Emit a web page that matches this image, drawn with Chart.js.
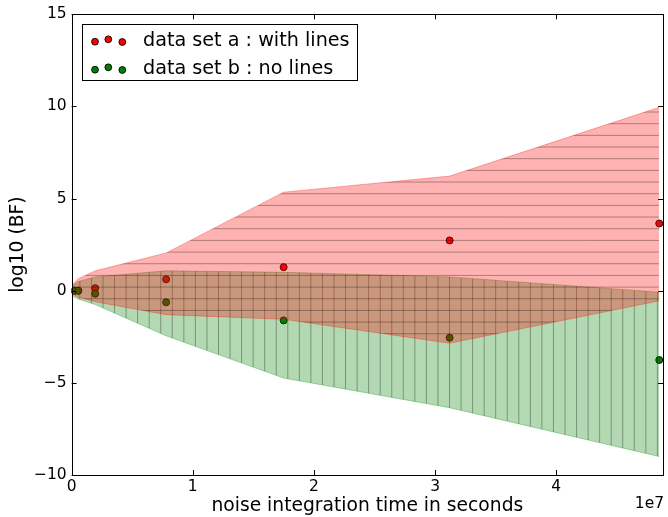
<!DOCTYPE html>
<html>
<head>
<meta charset="utf-8">
<script src="https://cdn.jsdelivr.net/npm/chart.js@4.4.1/dist/chart.umd.min.js"></script>
<style>
  html, body { margin: 0; padding: 0; background: #ffffff; }
  #wrap { width: 668px; height: 517px; position: relative; }
</style>
</head>
<body>
<div id="wrap"><canvas id="c" width="668" height="517"></canvas></div>
<script>
// ---- data ----
const pointTimes = [0.025e7, 0.055e7, 0.195e7, 0.78e7, 1.75e7, 3.12e7, 4.85e7];
const logBFa     = [0.0, 0.0, 0.14, 0.62, 1.28, 2.73, 3.65];
const logBFb     = [0.0, 0.0, -0.17, -0.63, -1.61, -2.55, -3.76];
const bandTimes  = [0.01e7, 0.055e7, 0.195e7, 0.78e7, 1.75e7, 3.12e7, 4.85e7];
const bandAUpper = [0.35, 0.65, 1.08, 2.05, 5.35, 6.22, 9.95];
const bandALower = [-0.2, -0.35, -0.6, -1.3, -1.55, -2.85, -0.55];
const bandBUpper = [0.3, 0.5, 0.75, 1.08, 1.0, 0.75, -0.08];
const bandBLower = [-0.3, -0.45, -0.75, -2.45, -4.74, -6.35, -9.0];
const xTickValues = [0, 1e7, 2e7, 3e7, 4e7];
const yTickValues = [-10, -5, 0, 5, 10, 15];
const legendLabels = ['data set a : with lines', 'data set b : no lines'];
const xAxisTitle = 'noise integration time in seconds';
const yAxisTitle = 'log10 (BF)';
const xOffsetText = '1e7';

const FONT = "'DejaVu Sans', 'Liberation Sans', sans-serif";

function pairs(xs, ys) { return xs.map((x, i) => ({ x: x, y: ys[i] })); }

function hatchPattern(fill, vertical, phase, spacing) {
  const cv = document.createElement('canvas');
  cv.width = 668; cv.height = 517;
  const g = cv.getContext('2d');
  g.fillStyle = fill;
  g.fillRect(0, 0, cv.width, cv.height);
  g.strokeStyle = 'rgba(0,0,0,0.32)';
  g.lineWidth = 1;
  g.beginPath();
  if (vertical) {
    for (let x = phase; x < cv.width; x += spacing) { g.moveTo(x, 0); g.lineTo(x, cv.height); }
  } else {
    for (let y = phase; y < cv.height; y += spacing) { g.moveTo(0, y); g.lineTo(cv.width, y); }
  }
  g.stroke();
  return g.createPattern(cv, 'no-repeat');
}

const redHatch = hatchPattern('rgba(255,0,0,0.3)', false, 7.0, 11.67);
const greenHatch = hatchPattern('rgba(0,128,0,0.3)', true, 10.6, 11.55);

const framePlugin = {
  id: 'frame',
  afterDraw(chart) {
    const ctx = chart.ctx;
    const a = chart.chartArea;
    const xs = chart.scales.x, ys = chart.scales.y;
    ctx.save();
    ctx.strokeStyle = '#000';
    ctx.lineWidth = 1;
    ctx.strokeRect(Math.round(a.left) + 0.5, Math.round(a.top) + 0.5,
                   Math.round(a.right - a.left) - 1, Math.round(a.bottom - a.top));
    ctx.beginPath();
    const tl = 5;
    xs.ticks.forEach(t => {
      const px = Math.round(xs.getPixelForValue(t.value)) + 0.5;
      ctx.moveTo(px, a.bottom); ctx.lineTo(px, a.bottom - tl);
      ctx.moveTo(px, a.top); ctx.lineTo(px, a.top + tl);
    });
    ys.ticks.forEach(t => {
      const py = Math.round(ys.getPixelForValue(t.value)) + 0.5;
      ctx.moveTo(a.left, py); ctx.lineTo(a.left + tl, py);
      ctx.moveTo(a.right, py); ctx.lineTo(a.right - tl, py);
    });
    ctx.stroke();
    // offset text of x axis
    ctx.fillStyle = '#000';
    ctx.font = '15.5px ' + FONT;
    ctx.textAlign = 'right';
    ctx.textBaseline = 'middle';
    ctx.fillText(xOffsetText, a.right + 1, 504);
    // legend
    const lx = 82.5, ly = 24.5, lw = 275, lh = 56;
    ctx.fillStyle = '#fff';
    ctx.fillRect(lx, ly, lw, lh);
    ctx.strokeStyle = '#000';
    ctx.strokeRect(lx, ly, lw, lh);
    const rows = [
      { y: 41, color: '#ff0000', text: legendLabels[0] },
      { y: 69, color: '#008000', text: legendLabels[1] }
    ];
    const mx = [95, 108.3, 122.3];
    const my = [0.7, -1.7, 1.0];
    rows.forEach(r => {
      for (let k = 0; k < 3; k++) {
        ctx.beginPath();
        ctx.arc(mx[k], r.y + my[k], 3.4, 0, Math.PI * 2);
        ctx.fillStyle = r.color;
        ctx.fill();
        ctx.lineWidth = 0.9;
        ctx.strokeStyle = '#000';
        ctx.stroke();
      }
      ctx.fillStyle = '#000';
      ctx.font = '19.2px ' + FONT;
      ctx.textAlign = 'left';
      ctx.textBaseline = 'middle';
      ctx.fillText(r.text, 143, r.y);
    });
    ctx.restore();
  }
};

const minusFmt = v => (v < 0 ? '\u2212' + Math.abs(v) : String(v));

new Chart(document.getElementById('c'), {
  type: 'line',
  data: {
    datasets: [
      { label: legendLabels[0], data: pairs(pointTimes, logBFa), showLine: false,
        pointRadius: 3.5, pointBackgroundColor: '#ff0000', pointBorderColor: '#000',
        pointBorderWidth: 0.9, order: 10, fill: false },
      { label: legendLabels[1], data: pairs(pointTimes, logBFb), showLine: false,
        pointRadius: 3.5, pointBackgroundColor: '#008000', pointBorderColor: '#000',
        pointBorderWidth: 0.9, order: 9, fill: false },
      { label: 'b lower', data: pairs(bandTimes, bandBLower), pointRadius: 0,
        borderColor: 'rgba(0,128,0,0.3)', borderWidth: 1, tension: 0, fill: false, order: 5 },
      { label: 'b upper', data: pairs(bandTimes, bandBUpper), pointRadius: 0,
        borderColor: 'rgba(0,128,0,0.3)', borderWidth: 1, tension: 0,
        backgroundColor: greenHatch, fill: { target: 2 }, order: 4 },
      { label: 'a lower', data: pairs(bandTimes, bandALower), pointRadius: 0,
        borderColor: 'rgba(255,0,0,0.3)', borderWidth: 1, tension: 0, fill: false, order: 3 },
      { label: 'a upper', data: pairs(bandTimes, bandAUpper), pointRadius: 0,
        borderColor: 'rgba(255,0,0,0.3)', borderWidth: 1, tension: 0,
        backgroundColor: redHatch, fill: { target: 4 }, order: 2 }
    ]
  },
  options: {
    responsive: false,
    animation: false,
    layout: { padding: { left: 0, right: 2, top: 14, bottom: 0 } },
    plugins: {
      legend: { display: false },
      tooltip: { enabled: false },
      filler: { drawTime: 'beforeDatasetDraw' }
    },
    scales: {
      x: {
        type: 'linear', min: 0, max: 4.882e7,
        afterBuildTicks: s => { s.ticks = xTickValues.map(v => ({ value: v })); },
        afterFit: s => { s.height = 42; },
        grid: { display: false, drawTicks: false },
        border: { display: false },
        ticks: { color: '#000', font: { family: FONT, size: 15.5 }, padding: 3,
                 maxRotation: 0, autoSkip: false,
                 callback: v => minusFmt(Math.round(v / 1e7)) },
        title: { display: true, text: xAxisTitle, color: '#000',
                 font: { family: FONT, size: 18.7 }, padding: { top: 0, bottom: 0 } }
      },
      y: {
        type: 'linear', min: -10, max: 15,
        afterBuildTicks: s => { s.ticks = yTickValues.map(v => ({ value: v })); },
        afterFit: s => { s.width = 71.6; },
        grid: { display: false, drawTicks: false },
        border: { display: false },
        ticks: { color: '#000', font: { family: FONT, size: 15.5 }, padding: 5,
                 autoSkip: false, callback: v => minusFmt(v) },
        title: { display: true, text: yAxisTitle, color: '#000',
                 font: { family: FONT, size: 18.7 }, padding: { top: 7, bottom: 0 } }
      }
    }
  },
  plugins: [framePlugin]
});
</script>
</body>
</html>
